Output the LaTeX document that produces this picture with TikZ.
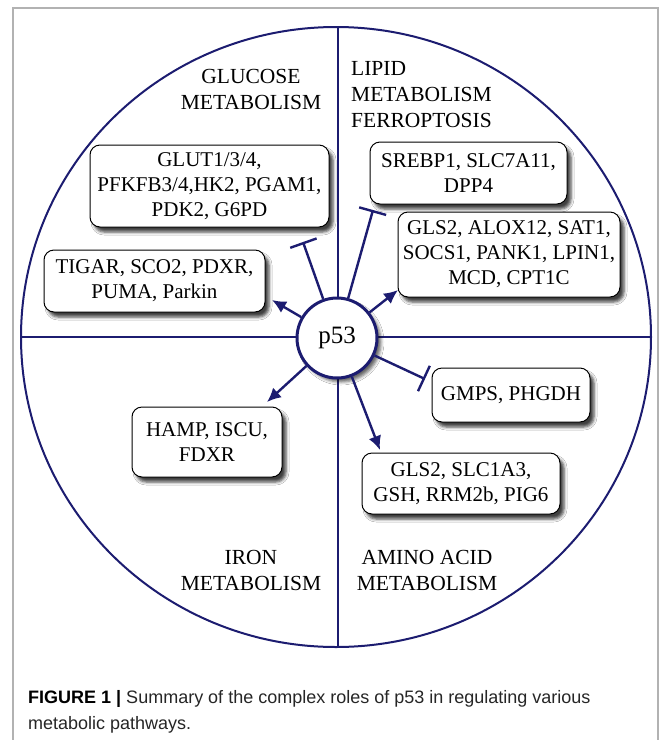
\documentclass[tikz,border=0pt]{standalone}
\usepackage{fontspec}
\setmainfont{Liberation Serif}
\newfontfamily\capfont{Liberation Sans}
\usetikzlibrary{arrows.meta,shadows,shadows.blur}
\definecolor{navy}{RGB}{28,28,112}
\definecolor{framegray}{RGB}{178,178,178}
\begin{document}
\begin{tikzpicture}[x=1pt,y=-1pt,
  box/.style={draw=black, line width=1pt, rounded corners=10pt, fill=white,
    align=center, font=\fontsize{21}{25}\selectfont, inner sep=0pt,
    blur shadow={shadow xshift=4pt, shadow yshift=-5pt, shadow blur radius=3pt, shadow opacity=75}},
  lab/.style={font=\fontsize{21.5}{26}\selectfont, align=center, inner sep=0pt},
  act/.style={draw=navy, line width=2.4pt, -{Latex[length=14pt,width=13pt]}},
  inh/.style={draw=navy, line width=2.4pt, -{Bar[width=28pt]}},
  quad/.style={draw=navy, line width=1.6pt},
  capt/.style={font=\capfont\fontsize{18}{25}\selectfont, inner sep=0pt, anchor=base west}]
\useasboundingbox (0,0) rectangle (663,740);
\fill[white] (0,0) rectangle (663,740);
% frame
\draw[framegray, line width=1.5pt] (13,740) -- (13,8) -- (658,8) -- (658,740);
% big ellipse and quadrants
\draw[navy, line width=2pt] (336,337) ellipse [x radius=315pt, y radius=310pt];
\coordinate (qtop) at (338,27);
\coordinate (qbot) at (338,647);
\coordinate (qleft) at (21,337);
\coordinate (qright) at (651,337);
\draw[quad] (qtop) -- (qbot);
\draw[quad] (qleft) -- (qright);
% quadrant labels
\node[lab] (glu) at (251,89) {GLUCOSE\\METABOLISM};
\node[lab, align=left, anchor=west] (lip) at (351,95) {LIPID\\METABOLISM\\FERROPTOSIS};
\node[lab] (iron) at (251,570) {IRON\\METABOLISM};
\node[lab] (amino) at (427,570) {AMINO ACID\\METABOLISM};
% boxes
\node[box, minimum width=239pt, minimum height=82pt] (glut) at (209.5,186) {GLUT1/3/4,\\PFKFB3/4,HK2, PGAM1,\\PDK2, G6PD};
\node[box, minimum width=221pt, minimum height=62pt] (tigar) at (154.5,281) {TIGAR, SCO2, PDXR,\\PUMA, Parkin};
\node[box, minimum width=197pt, minimum height=62pt] (srebp) at (468.5,173) {SREBP1, SLC7A11,\\DPP4};
\node[box, minimum width=222pt, minimum height=85pt] (alox) at (509,254.5) {GLS2, ALOX12, SAT1,\\SOCS1, PANK1, LPIN1,\\MCD, CPT1C};
\node[box, minimum width=158pt, minimum height=54pt] (gmps) at (511,395) {GMPS, PHGDH};
\node[box, minimum width=150pt, minimum height=70pt] (hamp) at (207,442) {HAMP, ISCU,\\FDXR};
\node[box, minimum width=198pt, minimum height=61pt] (slc) at (461,483.5) {GLS2, SLC1A3,\\GSH, RRM2b, PIG6};
% p53
\node[circle, draw=navy, line width=3pt, fill=white, minimum size=80pt, inner sep=0pt,
  font=\fontsize{25}{28}\selectfont,
  blur shadow={shadow xshift=4pt, shadow yshift=-4pt, shadow blur radius=3pt, shadow opacity=60}] (p53) at (337,338) {p53};
% connector ends
\coordinate (tGlut) at (303,242);
\coordinate (tSreb) at (373,210);
\coordinate (tTig) at (272,300);
\coordinate (tAlox) at (398,290);
\coordinate (tGmps) at (425,379);
\coordinate (tSlc) at (380,450);
\coordinate (tHamp) at (267,402);
\draw[inh] (p53) -- (tGlut);
\draw[inh] (p53) -- (tSreb);
\draw[inh] (p53) -- (tGmps);
\draw[act] (p53) -- (tTig);
\draw[act] (p53) -- (tAlox);
\draw[act] (p53) -- (tSlc);
\draw[act] (p53) -- (tHamp);
% caption
\node[capt] (cap1) at (28,703) {\textbf{FIGURE 1 |} \color{black!85}Summary of the complex roles of p53 in regulating various};
\node[capt, text=black!85] (cap2) at (28,729) {metabolic pathways.};
\end{tikzpicture}
\end{document}
